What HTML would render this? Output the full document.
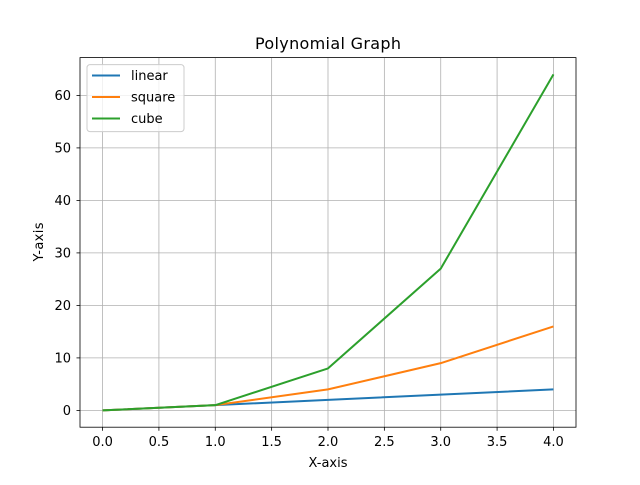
<!DOCTYPE html>
<html><head><meta charset="utf-8"><style>
body{margin:0;background:#fff}
svg text{font-family:"DejaVu Sans","Liberation Sans",sans-serif;fill:#000}
</style></head><body>
<svg id="chart" width="640" height="480" xmlns="http://www.w3.org/2000/svg">
<rect width="640" height="480" fill="#fff"/>
<g id="grid"></g>
<g id="series"></g>
<rect x="80" y="57.6" width="496" height="369.6" fill="none" stroke="#000" stroke-width="0.8"/>
<g id="ticks"></g>
<text x="328" y="49" font-size="16" text-anchor="middle" textLength="146">Polynomial Graph</text>
<text x="328" y="467" font-size="13" text-anchor="middle" textLength="39">X-axis</text>
<text x="43" y="242" font-size="13" text-anchor="middle" textLength="39" transform="rotate(-90 43 242)">Y-axis</text>
<g id="legend">
<rect x="87" y="64.6" width="97" height="67" rx="3" fill="#fff" fill-opacity="0.8" stroke="#ccc"/>
</g>
</svg>
<script>
const xs=[0,1,2,3,4];
const linear=[0,1,2,3,4];
const square=[0,1,4,9,16];
const cube=[0,1,8,27,64];
const xTicks=[0,0.5,1,1.5,2,2.5,3,3.5,4];
const yTicks=[0,10,20,30,40,50,60];
const seriesNames=["linear","square","cube"];
const colors=["#1f77b4","#ff7f0e","#2ca02c"];
const X=v=>80+(v+0.2)/4.4*496;
const Y=v=>427.2-(v+3.2)/70.4*369.6;
const NS="http://www.w3.org/2000/svg";
function mk(t,a,p){const e=document.createElementNS(NS,t);for(const k in a)e.setAttribute(k,a[k]);p.appendChild(e);return e;}
const grid=document.getElementById('grid'),ticks=document.getElementById('ticks');
xTicks.forEach(v=>{const x=X(v);
const g=mk('line',{x1:x,x2:x,y1:57.6,y2:427.2,stroke:'#b0b0b0','stroke-width':0.8},grid);

mk('line',{x1:x,x2:x,y1:427.2,y2:430.7,stroke:'#000','stroke-width':0.8},ticks);
const t=mk('text',{x:x,y:446,'font-size':13,'text-anchor':'middle'},ticks);t.textContent=v.toFixed(1);
});
yTicks.forEach(v=>{const y=Y(v);
const g=mk('line',{x1:80,x2:576,y1:y,y2:y,stroke:'#b0b0b0','stroke-width':0.8},grid);

mk('line',{x1:76.5,x2:80,y1:y,y2:y,stroke:'#000','stroke-width':0.8},ticks);
const t=mk('text',{x:71,y:y+4.5,'font-size':13,'text-anchor':'end'},ticks);t.textContent=v;
});
const ser=document.getElementById('series');
[linear,square,cube].forEach((d,i)=>{
const p=mk('polyline',{points:xs.map((x,j)=>X(x)+','+Y(d[j])).join(' '),fill:'none',stroke:colors[i],'stroke-width':2,'stroke-linejoin':'round'},ser);
});
const lg=document.getElementById('legend');
seriesNames.forEach((n,i)=>{const y=75.5+i*21.5;
const l=mk('line',{x1:92,x2:120,y1:y,y2:y,stroke:colors[i],'stroke-width':2},lg);

const t=mk('text',{x:131,y:y+4.5,'font-size':13},lg);t.textContent=n;
});
</script>
</body></html>
